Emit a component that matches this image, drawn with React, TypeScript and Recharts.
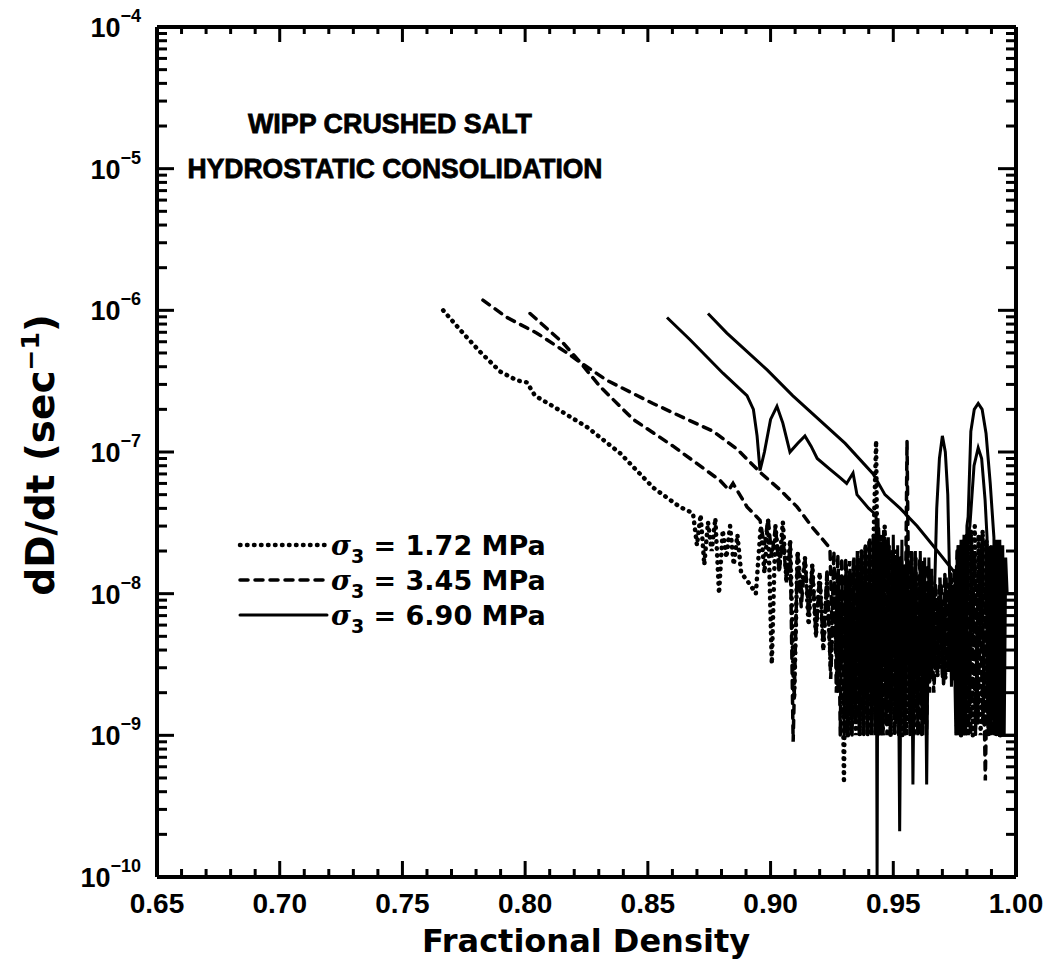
import React from 'react';
import { LineChart, Line, XAxis, YAxis, Legend, Customized } from 'recharts';

const FONT = '"Liberation Sans", Arial, Helvetica, sans-serif';
const WIDE = '"DejaVu Sans", Verdana, sans-serif';

// ---------- tick lists ----------
const X_TICKS = [
  0.65, 0.66, 0.67, 0.68, 0.69, 0.7, 0.71, 0.72, 0.73, 0.74, 0.75, 0.76,
  0.77, 0.78, 0.79, 0.8, 0.81, 0.82, 0.83, 0.84, 0.85, 0.86, 0.87, 0.88,
  0.89, 0.9, 0.91, 0.92, 0.93, 0.94, 0.95, 0.96, 0.97, 0.98, 0.99, 1.0,
];
const X_MAJOR_TICKS = [0.65, 0.7, 0.75, 0.8, 0.85, 0.9, 0.95, 1.0];
const X_MAJOR_LABELS = ['0.65', '0.70', '0.75', '0.80', '0.85', '0.90', '0.95', '1.00'];
const Y_DECADES = [1e-10, 1e-9, 1e-8, 1e-7, 1e-6, 1e-5, 1e-4];
const Y_EXPONENTS = ['\u221210', '\u22129', '\u22128', '\u22127', '\u22126', '\u22125', '\u22124'];
const Y_MINOR_FACTORS = [2, 3, 4, 5, 6, 7, 8, 9];

// ---------- annotations / legend text ----------
const TITLE_LINES = ['WIPP CRUSHED SALT', 'HYDROSTATIC CONSOLIDATION'];
const STRESS_LABELS = ['1.72 MPa', '3.45 MPa', '6.90 MPa'];
const X_TITLE = 'Fractional Density';

// ---------- series: [fractional density, dD/dt (1/s)] ----------
const SIGMA_172: [number, number][] = [
  [0.7666, 1.0e-6], [0.7747, 6.9e-7], [0.7816, 5.1e-7], [0.7898, 3.7e-7], [0.7967, 3.2e-7],
  [0.8007, 3.1e-7], [0.804, 2.5e-7], [0.8114, 2.1e-7], [0.8252, 1.5e-7], [0.8387, 9.8e-8],
  [0.8522, 5.6e-8], [0.863, 4.1e-8], [0.8684, 3.7e-8],
  [0.87, 2.2e-8], [0.8715, 3.6e-8], [0.873, 1.6e-8], [0.8745, 3.2e-8], [0.876, 2.0e-8],
  [0.8775, 3.4e-8], [0.879, 1.0e-8], [0.8805, 2.8e-8], [0.882, 1.8e-8], [0.8835, 3.0e-8],
  [0.885, 1.6e-8], [0.8865, 2.6e-8], [0.888, 1.4e-8], [0.8895, 1.3e-8], [0.891, 1.2e-8],
  [0.8925, 1.1e-8], [0.894, 1.0e-8], [0.896, 3.0e-8], [0.8975, 1.4e-8], [0.899, 3.3e-8],
  [0.9005, 3.2e-9], [0.902, 3.0e-8], [0.9035, 1.5e-8], [0.905, 3.2e-8], [0.9065, 1.2e-8],
  [0.908, 2.4e-8], [0.9096, 1.8e-9], [0.911, 2.0e-8], [0.9125, 1.0e-8], [0.914, 1.8e-8],
  [0.9155, 6.0e-9], [0.917, 1.6e-8], [0.9185, 5.0e-9], [0.92, 1.4e-8], [0.9215, 4.0e-9],
  [0.923, 1.2e-8], [0.9245, 3.0e-9], [0.926, 1.2e-8], [0.9275, 2.0e-9], [0.929, 1.0e-8],
  [0.9299, 4.6e-10], [0.9307, 1.2e-8], [0.9315, 1.0e-9], [0.9323, 1.4e-8], [0.9331, 1.2e-9],
  [0.9339, 1.6e-8], [0.9347, 1.0e-9], [0.9355, 1.8e-8], [0.9363, 1.0e-9], [0.9371, 2.0e-8],
  [0.9379, 1.5e-9], [0.9387, 2.2e-8], [0.9395, 1.0e-9], [0.9403, 2.4e-8], [0.9411, 1.0e-9],
  [0.9419, 2.2e-8], [0.943, 1.2e-7], [0.9441, 1.0e-9], [0.9449, 2.6e-8], [0.9457, 1.0e-9],
  [0.9465, 3.0e-8], [0.9473, 1.2e-9], [0.9481, 2.2e-8], [0.9489, 1.0e-9], [0.9497, 2.0e-8],
  [0.9505, 1.0e-9], [0.9513, 2.0e-8], [0.9521, 1.5e-9], [0.9529, 1.8e-8], [0.9537, 1.0e-9],
  [0.9545, 1.6e-8], [0.9553, 1.0e-9], [0.9561, 1.5e-8], [0.9569, 1.2e-9], [0.9577, 1.4e-8],
  [0.9585, 1.0e-9], [0.9593, 1.3e-8], [0.9601, 2.0e-9], [0.9609, 1.2e-8], [0.9617, 2.0e-9],
  [0.9625, 1.1e-8], [0.9633, 2.5e-9], [0.964, 1.0e-8], [0.9648, 2.5e-9], [0.9656, 1.2e-8],
  [0.9664, 3.0e-9], [0.9672, 1.0e-8], [0.968, 2.6e-9], [0.9688, 1.1e-8], [0.9696, 3.0e-9],
  [0.9704, 9.0e-9], [0.9712, 2.5e-9], [0.972, 1.2e-8], [0.9728, 3.0e-9], [0.9736, 1.3e-8],
  [0.9744, 2.4e-9], [0.9752, 1.5e-8], [0.976, 1.0e-9], [0.9768, 2.0e-8], [0.9776, 1.0e-9],
  [0.9784, 2.2e-8], [0.9792, 1.2e-9], [0.98, 2.6e-8], [0.9808, 1.0e-9], [0.9816, 2.8e-8],
  [0.9824, 1.0e-9], [0.9832, 3.0e-8], [0.984, 1.5e-9], [0.9848, 2.6e-8], [0.9856, 1.0e-9],
  [0.9864, 2.8e-8], [0.9872, 1.2e-9], [0.988, 2.4e-8], [0.9888, 1.0e-9], [0.9896, 2.2e-8],
  [0.9904, 1.0e-9], [0.9912, 2.0e-8], [0.992, 1.0e-9], [0.9928, 1.8e-8], [0.9936, 1.0e-9],
  [0.9944, 1.5e-8],
];

const SIGMA_345_A: [number, number][] = [
  [0.7828, 1.18e-6], [0.7926, 8.9e-7], [0.8048, 6.9e-7], [0.8171, 5.0e-7], [0.8224, 4.3e-7],
  [0.8334, 3.2e-7], [0.8521, 2.2e-7], [0.866, 1.7e-7], [0.8766, 1.4e-7], [0.8863, 1.05e-7],
  [0.8957, 7.2e-8], [0.9039, 5.4e-8], [0.9108, 4.1e-8], [0.9173, 2.9e-8], [0.9242, 2.1e-8],
  [0.925, 6.0e-9], [0.9258, 2.0e-8], [0.9266, 4.0e-9], [0.9274, 1.9e-8], [0.9282, 3.0e-9],
  [0.929, 1.8e-8], [0.9298, 2.0e-9], [0.9306, 1.8e-8], [0.9314, 1.0e-9], [0.9322, 1.7e-8],
  [0.933, 1.0e-9], [0.9338, 1.8e-8], [0.9346, 1.2e-9], [0.9354, 2.0e-8], [0.9362, 1.0e-9],
  [0.937, 2.0e-8], [0.9378, 1.0e-9], [0.9386, 2.2e-8], [0.9394, 1.0e-9], [0.9402, 2.4e-8],
  [0.941, 1.0e-9], [0.9418, 2.5e-8], [0.9426, 1.0e-9], [0.9434, 2.6e-8], [0.9442, 3.0e-9],
  [0.945, 2.2e-8], [0.9458, 1.0e-9], [0.9466, 2.4e-8], [0.9474, 1.0e-9], [0.9482, 2.2e-8],
  [0.949, 1.5e-9], [0.9498, 2.0e-8], [0.9506, 1.0e-9], [0.9514, 1.8e-8], [0.9522, 1.0e-9],
  [0.953, 1.6e-8], [0.9545, 1.0e-9], [0.9556, 1.2e-7], [0.9568, 1.0e-9], [0.9576, 2.0e-8],
  [0.9584, 1.0e-9], [0.9592, 1.8e-8], [0.96, 1.0e-9], [0.9608, 1.8e-8], [0.9616, 1.0e-9],
  [0.9624, 1.7e-8], [0.9632, 1.2e-9], [0.964, 1.6e-8], [0.9648, 2.0e-9], [0.9656, 1.5e-8],
  [0.9664, 3.0e-9], [0.9672, 1.2e-8], [0.968, 2.8e-9], [0.969, 1.3e-8], [0.97, 2.5e-9],
  [0.971, 1.4e-8], [0.972, 3.0e-9], [0.973, 1.2e-8], [0.974, 2.5e-9], [0.975, 1.5e-8],
  [0.9758, 3.0e-9], [0.977, 2.0e-8], [0.9785, 1.0e-9], [0.98, 2.5e-8], [0.9815, 1.0e-9],
  [0.983, 2.0e-8], [0.9845, 1.2e-9], [0.986, 2.2e-8], [0.9875, 4.8e-10], [0.989, 2.0e-8],
  [0.9905, 1.0e-9], [0.992, 1.8e-8], [0.9935, 1.0e-9],
];

const SIGMA_345_B: [number, number][] = [
  [0.802, 9.5e-7], [0.8154, 5.9e-7], [0.8224, 4.3e-7], [0.8305, 2.9e-7], [0.844, 1.7e-7],
  [0.8603, 1.1e-7], [0.8794, 6.3e-8], [0.883, 5.4e-8], [0.8847, 6.0e-8], [0.8904, 4.1e-8],
  [0.8957, 3.3e-8],
  [0.8975, 2.2e-8], [0.899, 3.4e-8], [0.9005, 1.8e-8], [0.902, 3.0e-8], [0.9035, 1.4e-8],
  [0.905, 2.6e-8], [0.9065, 1.2e-8], [0.908, 2.2e-8], [0.9092, 9.0e-10], [0.911, 2.0e-8],
  [0.9125, 8.0e-9], [0.914, 1.8e-8], [0.9155, 7.0e-9], [0.917, 1.6e-8], [0.9185, 5.0e-9],
  [0.92, 1.4e-8], [0.9215, 4.0e-9], [0.923, 1.5e-8], [0.9245, 2.5e-9], [0.926, 1.4e-8],
  [0.9268, 2.0e-9], [0.9276, 1.5e-8], [0.9284, 1.0e-9], [0.9292, 1.3e-8], [0.93, 1.0e-9],
  [0.9308, 1.6e-8], [0.9316, 1.0e-9], [0.9324, 1.5e-8], [0.9332, 1.0e-9], [0.934, 1.8e-8],
  [0.9348, 1.2e-9], [0.9356, 1.7e-8], [0.9364, 1.0e-9], [0.9372, 2.0e-8], [0.938, 1.0e-9],
  [0.9388, 2.2e-8], [0.9396, 1.0e-9], [0.9404, 2.4e-8], [0.9412, 1.0e-9], [0.942, 2.6e-8],
  [0.9428, 1.0e-9], [0.944, 3.0e-8], [0.9455, 1.2e-9], [0.947, 2.4e-8], [0.9485, 1.0e-9],
  [0.95, 2.0e-8], [0.9515, 2.0e-9], [0.953, 1.8e-8], [0.9545, 1.0e-9], [0.956, 2.0e-8],
  [0.9575, 1.5e-9], [0.959, 1.8e-8], [0.9605, 1.0e-9], [0.962, 1.6e-8], [0.9635, 1.0e-9],
  [0.965, 1.4e-8], [0.9665, 2.0e-9], [0.968, 8.0e-9], [0.9685, 3.0e-9], [0.9695, 1.2e-8],
  [0.9705, 2.2e-9], [0.9715, 1.3e-8], [0.9725, 2.8e-9], [0.9735, 1.4e-8], [0.9745, 2.5e-9],
  [0.976, 2.0e-8], [0.9775, 1.0e-9],
  [0.979, 2.2e-8], [0.9805, 1.0e-9], [0.982, 2.5e-8], [0.9835, 1.0e-9], [0.985, 2.0e-8],
  [0.9865, 1.2e-9], [0.988, 2.2e-8], [0.9895, 1.0e-9], [0.991, 2.0e-8], [0.9925, 1.0e-9],
  [0.994, 1.5e-8],
];

const SIGMA_690_A: [number, number][] = [
  [0.8578, 8.9e-7], [0.8672, 6.2e-7], [0.8806, 3.6e-7], [0.8904, 2.5e-7], [0.893, 2.0e-7],
  [0.8945, 1.3e-7], [0.8957, 7.4e-8], [0.8975, 1.0e-7], [0.9, 1.7e-7], [0.9026, 2.1e-7],
  [0.905, 1.6e-7], [0.9079, 1.0e-7], [0.911, 1.15e-7], [0.914, 1.3e-7], [0.9165, 1.1e-7],
  [0.919, 9.0e-8], [0.924, 7.6e-8], [0.9283, 6.6e-8], [0.931, 6.0e-8], [0.9336, 7.1e-8],
  [0.9352, 5.0e-8], [0.94, 4.0e-8], [0.943, 3.6e-8], [0.9434, 1.0e-10], [0.9438, 3.4e-8],
  [0.945, 1.0e-9], [0.946, 2.8e-8], [0.947, 1.2e-9], [0.948, 2.5e-8], [0.949, 1.0e-9],
  [0.95, 2.6e-8], [0.951, 1.2e-9], [0.9518, 2.2e-8], [0.9526, 2.1e-10], [0.9535, 2.4e-8],
  [0.9545, 1.0e-9], [0.9555, 2.2e-8], [0.9565, 1.5e-9], [0.9573, 2.0e-8], [0.958, 4.5e-10],
  [0.959, 2.0e-8], [0.96, 1.0e-9], [0.961, 2.0e-8], [0.962, 1.0e-9], [0.9628, 1.8e-8],
  [0.9636, 4.5e-10], [0.9645, 1.8e-8], [0.9655, 2.5e-9],
  [0.9668, 1.0e-8], [0.9677, 4.0e-8], [0.9688, 9.0e-8], [0.97, 1.3e-7], [0.9712, 1.0e-7],
  [0.9722, 5.0e-8], [0.973, 1.2e-8], [0.9737, 2.2e-9], [0.9745, 1.0e-8], [0.9755, 1.0e-9],
  [0.9765, 2.2e-8], [0.9775, 1.0e-9], [0.9785, 2.4e-8], [0.9795, 1.0e-9], [0.9805, 2.6e-8],
  [0.9812, 3.0e-8], [0.9829, 8.0e-8], [0.9846, 1.07e-7], [0.986, 9.0e-8], [0.9874, 4.6e-8],
  [0.9882, 2.5e-8], [0.989, 1.0e-9], [0.99, 2.2e-8], [0.991, 1.0e-9], [0.992, 2.0e-8],
  [0.993, 1.0e-9], [0.9935, 1.5e-8], [0.994, 1.0e-9], [1.0, 1.0e-9],
];

const SIGMA_690_B: [number, number][] = [
  [0.8745, 9.5e-7], [0.8822, 6.9e-7], [0.8986, 3.8e-7], [0.909, 2.5e-7], [0.9304, 1.15e-7],
  [0.9418, 7.0e-8], [0.9466, 5.0e-8], [0.9528, 4.0e-8], [0.9597, 3.0e-8], [0.967, 2.1e-8],
  [0.9752, 1.4e-8], [0.9758, 1.0e-9], [0.9764, 2.2e-8], [0.977, 1.0e-9], [0.9776, 2.4e-8],
  [0.9782, 1.0e-9], [0.9788, 2.6e-8], [0.9794, 1.0e-9], [0.98, 3.0e-8], [0.9805, 3.5e-8],
  [0.9816, 1.4e-7], [0.983, 2.0e-7], [0.9846, 2.2e-7], [0.9862, 2.0e-7], [0.9878, 1.35e-7],
  [0.9895, 6.0e-8], [0.991, 2.5e-8], [0.9916, 1.0e-9], [0.9922, 2.4e-8], [0.9928, 1.0e-9],
  [0.9934, 2.4e-8], [0.994, 1.0e-9], [0.9946, 2.2e-8], [0.9952, 1.0e-9], [0.9958, 1.8e-8],
  [0.9964, 1.0e-8], [1.0, 1.0e-8],
];

const toPts = (arr: [number, number][]) => arr.map(([x, y]) => ({ x, y }));

const yTicks: number[] = [];
Y_DECADES.forEach((d, i) => {
  yTicks.push(d);
  if (i < Y_DECADES.length - 1) Y_MINOR_FACTORS.forEach((f) => yTicks.push(d * f));
});

const majorIndexY = (v: number) => Y_DECADES.findIndex((d) => Math.abs(v - d) / d < 1e-6);
const majorIndexX = (v: number) => X_MAJOR_TICKS.findIndex((t) => Math.abs(v - t) < 1e-6);

const BottomTick = (props: any) => {
  const { x, y, payload } = props;
  const mi = majorIndexX(payload.value);
  const len = mi >= 0 ? 16 : 8;
  return (
    <g>
      <path d={`M${x},${y}V${y - len}`} stroke="#000" strokeWidth={3} fill="none" />
      {mi >= 0 && (
        <text x={x} y={y + 36} textAnchor="middle" fontFamily={FONT} fontWeight="bold" fontSize={28} fill="#000">
          {X_MAJOR_LABELS[mi]}
        </text>
      )}
    </g>
  );
};

const TopTick = (props: any) => {
  const { x, y, payload } = props;
  const len = majorIndexX(payload.value) >= 0 ? 15 : 7;
  return <path d={`M${x},${y}V${y + len}`} stroke="#000" strokeWidth={3} fill="none" />;
};

const LeftTick = (props: any) => {
  const { x, y, payload } = props;
  const mi = majorIndexY(payload.value);
  const len = mi >= 0 ? 17 : 10;
  return (
    <g>
      <path d={`M${x},${y}H${x + len}`} stroke="#000" strokeWidth={3} fill="none" />
      {mi >= 0 && (
        <text x={x - 16} y={y + 10} textAnchor="end" fontFamily={FONT} fontWeight="bold" fontSize={27} fill="#000">
          10
          <tspan dy={-15} fontSize={18}>{Y_EXPONENTS[mi]}</tspan>
        </text>
      )}
    </g>
  );
};

const RightTick = (props: any) => {
  const { x, y, payload } = props;
  const len = majorIndexY(payload.value) >= 0 ? 18 : 10;
  return <path d={`M${x},${y}H${x - len}`} stroke="#000" strokeWidth={3} fill="none" />;
};

const YTitle = () => (
  <text transform="translate(54,455) rotate(-90)" textAnchor="middle" fontFamily={WIDE} fontWeight="bold" fontSize={39} fill="#000">
    dD/dt (sec
    <tspan dy={-15} fontSize={25}>{'\u22121'}</tspan>
    <tspan dy={15}>)</tspan>
  </text>
);

const XTitle = () => (
  <text x={586} y={952} textAnchor="middle" fontFamily={WIDE} fontWeight="bold" fontSize={32} fill="#000">
    {X_TITLE}
  </text>
);

const Annotation = () => (
  <g fontFamily={FONT} fontWeight="bold" fill="#000" stroke="#000" strokeWidth={0.8}>
    <text x={390} y={133} textAnchor="middle" fontSize={28} textLength={284} lengthAdjust="spacingAndGlyphs">
      {TITLE_LINES[0]}
    </text>
    <text x={395} y={178} textAnchor="middle" fontSize={28} textLength={415} lengthAdjust="spacingAndGlyphs">
      {TITLE_LINES[1]}
    </text>
  </g>
);

const LEGEND_STYLES = [
  { dash: '0.5 6.5', width: 4.5 },
  { dash: '8 7', width: 3.5 },
  { dash: undefined as string | undefined, width: 3 },
];

const LegendContent = () => (
  <svg width={400} height={115} style={{ display: 'block' }}>
    {STRESS_LABELS.map((lab, i) => {
      const cy = 20 + i * 35;
      const st = LEGEND_STYLES[i];
      return (
        <g key={lab}>
          <line x1={5} x2={92} y1={cy} y2={cy} stroke="#000" strokeWidth={st.width} strokeDasharray={st.dash} strokeLinecap="round" />
          <text x={96} y={cy + 10} fontFamily={WIDE} fontWeight="bold" fontSize={27} fill="#000">
            <tspan fontStyle="italic" fontFamily='"DejaVu Serif", serif'>{'\u03c3'}</tspan>
            <tspan dy={8} fontSize={19}>3</tspan>
            <tspan dy={-8}>{' = ' + lab}</tspan>
          </text>
        </g>
      );
    })}
  </svg>
);

const FRAME = { stroke: '#000', strokeWidth: 4 };
const XDOM: [number, number] = [0.65, 1.0];
const YDOM: [number, number] = [1e-10, 1e-4];

export default function App() {
  return (
    <div style={{ position: 'absolute', left: 0, top: 0, width: 1045, height: 972, background: '#fff' }}>
      <LineChart width={1045} height={972} margin={{ top: 26, right: 28, bottom: 0, left: 0 }}>
        <XAxis xAxisId="bottom" orientation="bottom" dataKey="x" type="number" domain={XDOM} allowDataOverflow
          ticks={X_TICKS} interval={0} height={95} tickSize={0} tickMargin={0} tickLine={false}
          axisLine={FRAME} tick={BottomTick} label={<XTitle />} />
        <XAxis xAxisId="top" orientation="top" dataKey="x" type="number" domain={XDOM} allowDataOverflow
          ticks={X_TICKS} interval={0} height={1} tickSize={0} tickMargin={0} tickLine={false}
          axisLine={FRAME} tick={TopTick} />
        <YAxis yAxisId="left" orientation="left" dataKey="y" type="number" scale="log" domain={YDOM} allowDataOverflow
          ticks={yTicks} interval={0} width={157} tickSize={0} tickMargin={0} tickLine={false}
          axisLine={FRAME} tick={LeftTick} label={<YTitle />} />
        <YAxis yAxisId="right" orientation="right" dataKey="y" type="number" scale="log" domain={YDOM} allowDataOverflow
          ticks={yTicks} interval={0} width={1} tickSize={0} tickMargin={0} tickLine={false}
          axisLine={FRAME} tick={RightTick} />
        <Legend
          layout="horizontal"
          verticalAlign="middle"
          align="center"
          wrapperStyle={{ position: 'absolute', left: 235, top: 525, width: 400 }}
          content={<LegendContent />}
        />
        <Line xAxisId="bottom" yAxisId="left" data={toPts(SIGMA_172)} dataKey="y" name="1.72" type="linear" stroke="#000" strokeWidth={4.5} strokeDasharray="0.5 6.5" strokeLinecap="round" dot={false} isAnimationActive={false} />
        <Line xAxisId="bottom" yAxisId="left" data={toPts(SIGMA_345_A)} dataKey="y" name="3.45a" type="linear" stroke="#000" strokeWidth={3.5} strokeDasharray="8 7" strokeLinecap="round" dot={false} isAnimationActive={false} />
        <Line xAxisId="bottom" yAxisId="left" data={toPts(SIGMA_345_B)} dataKey="y" name="3.45b" type="linear" stroke="#000" strokeWidth={3.5} strokeDasharray="8 7" strokeLinecap="round" dot={false} isAnimationActive={false} />
        <Line xAxisId="bottom" yAxisId="left" data={toPts(SIGMA_690_A)} dataKey="y" name="6.90a" type="linear" stroke="#000" strokeWidth={3} dot={false} isAnimationActive={false} />
        <Line xAxisId="bottom" yAxisId="left" data={toPts(SIGMA_690_B)} dataKey="y" name="6.90b" type="linear" stroke="#000" strokeWidth={3} dot={false} isAnimationActive={false} />
        <Customized component={<Annotation />} />
      </LineChart>
    </div>
  );
}
